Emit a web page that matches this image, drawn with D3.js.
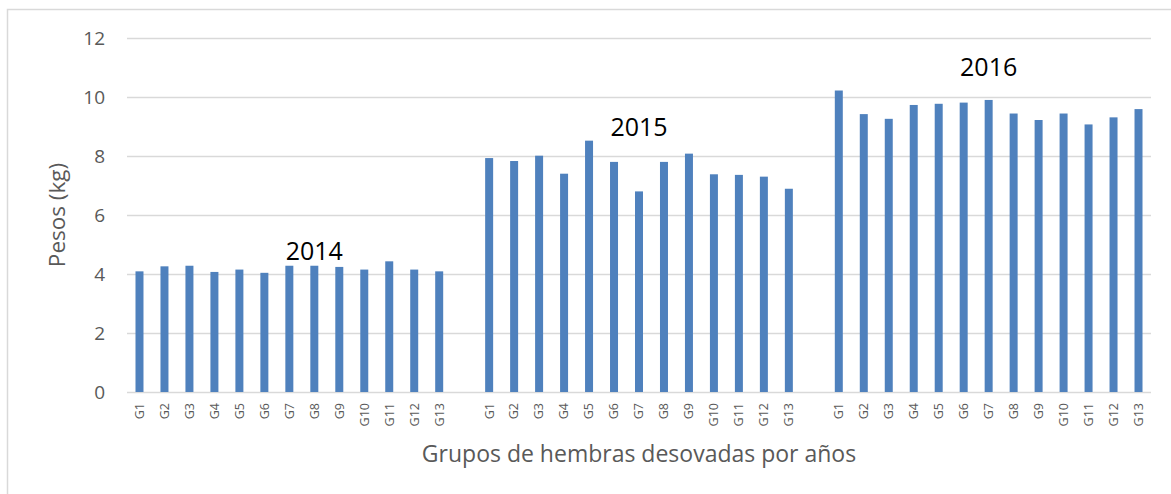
<!DOCTYPE html>
<head>
    <meta charset="utf-8">
    <title>Pesos por grupos</title>
    <script src="https://d3js.org/d3.v7.min.js"></script>
    <style>
        body { margin: 0; background: #fff; }
        text { font-family: 'Open Sans', 'Noto Sans', sans-serif; }
    </style>
</head>
<body>
<script>
    var years = ["2014", "2015", "2016"];
    var groups = ["G1", "G2", "G3", "G4", "G5", "G6", "G7", "G8", "G9", "G10", "G11", "G12", "G13"];
    var pesos2014 = [4.09, 4.26, 4.28, 4.07, 4.15, 4.04, 4.28, 4.28, 4.24, 4.15, 4.43, 4.15, 4.09];
    var pesos2015 = [7.93, 7.83, 8.01, 7.40, 8.52, 7.80, 6.80, 7.80, 8.08, 7.38, 7.36, 7.30, 6.89];
    var pesos2016 = [10.22, 9.42, 9.26, 9.73, 9.77, 9.81, 9.90, 9.44, 9.22, 9.44, 9.07, 9.31, 9.59];
    var yTicks = [0, 2, 4, 6, 8, 10, 12];

    var width = 1171,
        height = 494;
    var margin = { top: 38, right: 20, bottom: 102, left: 127 };

    // one slot per bar, with an empty slot between years
    var series = [pesos2014, pesos2015, pesos2016];
    var slots = [], bars = [];
    years.forEach(function (yr, yi) {
        if (yi > 0) slots.push("gap" + yi);
        groups.forEach(function (g, gi) {
            var key = yr + "-" + g;
            slots.push(key);
            bars.push({ key: key, group: g, year: yr, value: series[yi][gi] });
        });
    });

    var svg = d3.select("body").append("svg")
        .attr("width", width)
        .attr("height", height);

    // frame
    svg.append("rect")
        .attr("x", 7.5).attr("y", 9.5)
        .attr("width", 1300).attr("height", 700)
        .attr("fill", "none")
        .attr("stroke", "#d9d9d9")
        .attr("stroke-width", 1.5);

    var x = d3.scaleBand()
        .domain(slots)
        .range([margin.left, width - margin.right])
        .paddingInner(0.68)
        .paddingOuter(0.34);

    var y = d3.scaleLinear()
        .domain([0, 12])
        .range([height - margin.bottom, margin.top]);

    // gridlines + y labels
    var yAxis = d3.axisLeft(y)
        .tickValues(yTicks)
        .tickSize(-(width - margin.right - margin.left))
        .tickPadding(22);

    var gy = svg.append("g")
        .attr("transform", "translate(" + margin.left + ",0)")
        .call(yAxis);
    gy.select(".domain").remove();
    gy.selectAll(".tick line")
        .attr("stroke", "#d9d9d9")
        .attr("stroke-width", 1.5);
    gy.selectAll(".tick text")
        .attr("fill", "#595959")
        .style("font-size", "19px");

    // bars
    svg.selectAll(".bar")
        .data(bars)
        .enter().append("rect")
        .attr("class", "bar")
        .attr("x", function (d) { return x(d.key); })
        .attr("width", x.bandwidth())
        .attr("y", function (d) { return y(d.value); })
        .attr("height", function (d) { return y(0) - y(d.value); })
        .attr("fill", "#4f81bd");

    // x tick labels, rotated
    var xAxis = d3.axisBottom(x)
        .tickSize(0)
        .tickPadding(0)
        .tickFormat(function (k) { return k.indexOf("gap") === 0 ? "" : k.split("-")[1]; });

    var gx = svg.append("g")
        .attr("transform", "translate(0," + y(0) + ")")
        .call(xAxis);
    gx.select(".domain").remove();
    gx.selectAll(".tick text")
        .attr("fill", "#595959")
        .style("font-size", "12.5px")
        .attr("text-anchor", "end")
        .attr("dy", "0.35em")
        .attr("transform", "translate(0,11) rotate(-90)")
        .attr("x", 0).attr("y", 0);

    // year labels
    var yearAnchors = [
        { text: "2014", key: "2014-G8", value: 4.48 },
        { text: "2015", key: "2015-G7", value: 8.69 },
        { text: "2016", key: "2016-G7", value: 10.72 }
    ];
    svg.selectAll(".year")
        .data(yearAnchors)
        .enter().append("text")
        .attr("class", "year")
        .attr("x", function (d) { return x(d.key) + x.bandwidth() / 2; })
        .attr("y", function (d) { return y(d.value); })
        .attr("text-anchor", "middle")
        .attr("fill", "#000")
        .style("font-size", "25px")
        .text(function (d) { return d.text; });

    // axis titles
    svg.append("text")
        .attr("transform", "translate(65," + ((margin.top + height - margin.bottom) / 2) + ") rotate(-90)")
        .attr("text-anchor", "middle")
        .attr("fill", "#595959")
        .style("font-size", "22.5px")
        .text("Pesos (kg)");

    svg.append("text")
        .attr("x", (margin.left + width - margin.right) / 2)
        .attr("y", 462)
        .attr("text-anchor", "middle")
        .attr("fill", "#595959")
        .style("font-size", "23px")
        .text("Grupos de hembras desovadas por años");
</script>
</body>
</html>
